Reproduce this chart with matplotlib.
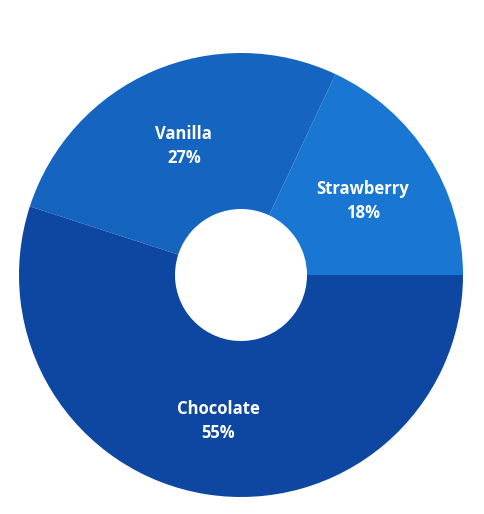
import matplotlib
matplotlib.use('Agg')
import matplotlib.pyplot as plt
import numpy as np

# 数据
flavors = ['Strawberry', 'Vanilla', 'Chocolate']
shares = [18, 27, 55]
colors = ['#1976D2', '#1565C0', '#0D47A1']

plt.rcParams['font.family'] = ['Open Sans', 'DejaVu Sans']

W, H = 485, 514
cx, cy, R = 241, 275, 222

fig = plt.figure(figsize=(W / 100, H / 100), dpi=100)
ax = fig.add_axes([0, 0, 1, 1])

inner = 66 / R
ax.pie(shares, colors=colors, startangle=0, counterclock=True, radius=1,
       wedgeprops=dict(width=1 - inner, linewidth=0))

# 标签放在环中间
start = 0
mid_r = (1 + inner) / 2
for f, s in zip(flavors, shares):
    ang = np.deg2rad(start + s * 3.6 / 2)
    ax.text(mid_r * np.cos(ang), mid_r * np.sin(ang) - 3.5 / R, f'{f}\n{s}%',
            ha='center', va='center', color='white', fontsize=12,
            fontweight='bold', linespacing=1.45)
    start += s * 3.6

ax.set_xlim(-cx / R, (W - cx) / R)
ax.set_ylim(-(H - cy) / R, cy / R)
ax.set_aspect('auto')
ax.axis('off')

plt.savefig('out.png', dpi=100)
plt.close()
